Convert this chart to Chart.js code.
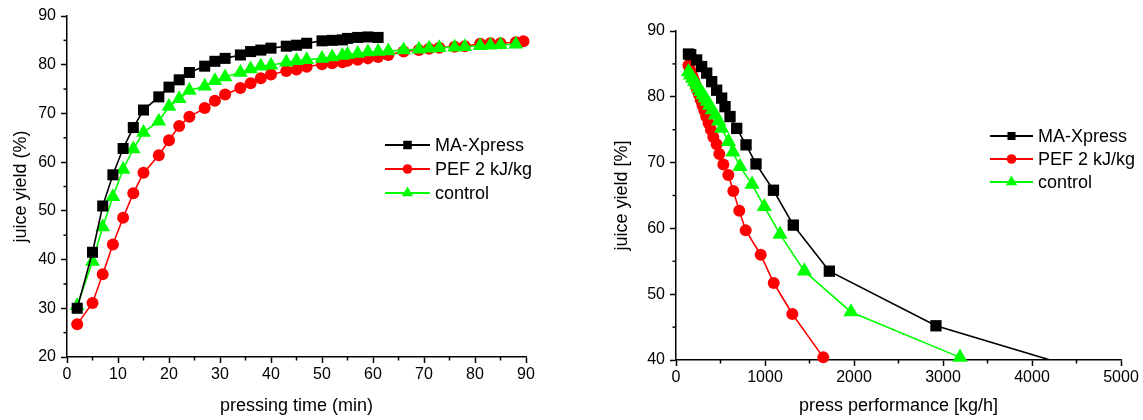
<!DOCTYPE html>
<html>
<head>
<meta charset="utf-8">
<script src="https://cdn.jsdelivr.net/npm/chart.js@4/dist/chart.umd.min.js"></script>
<style>
  html, body { margin: 0; padding: 0; background: #fff; }
  #wrap { position: relative; width: 1143px; height: 420px; overflow: hidden; }
  #time-chart { position: absolute; left: 0; top: 0; }
  #perf-chart { position: absolute; left: 600px; top: 0; }
</style>
</head>
<body>
<div id="wrap">
  <canvas id="time-chart" width="560" height="420"></canvas>
  <canvas id="perf-chart" width="543" height="420"></canvas>
</div>
<script>
// left panel: juice yield over pressing time
var seriesNames = ['MA-Xpress', 'PEF 2 kJ/kg', 'control'];

var timeMA = [2, 5, 7, 9, 11, 13, 15, 18, 20, 22, 24, 27, 29, 31, 34, 36, 38, 40, 43, 45, 47, 50, 52, 54, 55, 57, 59, 61];
var yieldMA = [30.0, 41.5, 51.0, 57.4, 62.8, 67.1, 70.7, 73.4, 75.4, 76.9, 78.4, 79.7, 80.7, 81.3, 82.0, 82.7, 83.0, 83.4, 83.8, 84.0, 84.4, 84.9, 85.0, 85.1, 85.4, 85.6, 85.7, 85.6];

var timePEF = [2, 5, 7, 9, 11, 13, 15, 18, 20, 22, 24, 27, 29, 31, 34, 36, 38, 40, 43, 45, 47, 50, 52, 54, 55, 57, 59, 61, 63, 66, 69, 71, 73, 76, 78, 81, 83, 85, 88, 89.5];
var yieldPEF = [26.7, 31.1, 37.0, 43.1, 48.6, 53.6, 57.8, 61.4, 64.5, 67.4, 69.3, 71.1, 72.6, 73.9, 75.2, 76.2, 77.2, 78.0, 78.7, 79.0, 79.6, 80.1, 80.3, 80.5, 80.8, 81.0, 81.3, 81.6, 82.0, 82.7, 83.0, 83.3, 83.5, 83.7, 83.8, 84.3, 84.4, 84.4, 84.6, 84.8];

var timeCtrl = [2, 5, 7, 9, 11, 13, 15, 18, 20, 22, 24, 27, 29, 31, 34, 36, 38, 40, 43, 45, 47, 50, 52, 54, 55, 57, 59, 61, 63, 66, 69, 71, 73, 76, 78, 81, 83, 85, 88];
var yieldCtrl = [30.5, 39.6, 46.7, 52.9, 58.5, 62.7, 66.1, 68.4, 71.4, 73.0, 74.7, 75.6, 76.7, 77.5, 78.4, 79.1, 79.7, 79.9, 80.5, 80.8, 81.0, 81.3, 81.6, 81.9, 82.1, 82.3, 82.6, 82.7, 82.8, 83.0, 83.2, 83.4, 83.5, 83.6, 83.7, 83.9, 84.0, 84.1, 84.2];

// right panel: juice yield over press performance
var perfMA = [140, 165, 232, 288, 345, 401, 457, 513, 551, 607, 682, 787, 899, 1095, 1318, 1723, 2921, 4500];
var perfYieldMA = [86.5, 86.4, 85.6, 84.6, 83.6, 82.3, 81.0, 79.8, 78.5, 77.0, 75.2, 72.7, 69.8, 65.8, 60.5, 53.5, 45.2, 38.8];

var perfPEF = [140, 154, 170, 186, 204, 222, 240, 258, 278, 298, 318, 340, 365, 392, 419, 457, 487, 532, 588, 644, 711, 783, 952, 1098, 1307, 1655];
var perfYieldPEF = [84.8, 84.3, 83.7, 83.1, 82.4, 81.7, 81.0, 80.3, 79.5, 78.7, 77.9, 77.0, 76.0, 75.0, 73.9, 72.8, 71.3, 69.7, 68.1, 65.7, 62.7, 59.7, 56.0, 51.7, 47.0, 40.4];

var perfCtrl = [140, 163, 186, 210, 233, 256, 280, 303, 327, 350, 377, 408, 443, 478, 513, 590, 640, 719, 855, 992, 1169, 1442, 1966, 3191];
var perfYieldCtrl = [83.8, 83.3, 82.8, 82.3, 81.8, 81.3, 80.8, 80.3, 79.8, 79.3, 78.7, 78.0, 77.2, 76.3, 75.2, 73.2, 71.6, 69.4, 66.7, 63.3, 59.1, 53.5, 47.3, 40.4];

var timeRange = [0, 90, 10];
var timeYieldRange = [20, 90, 10];
var perfRange = [0, 5000, 1000];
var perfYieldRange = [40, 90, 10];

var FONT = '"Liberation Sans", Arial, sans-serif';

function toPoints(xs, ys) {
  return xs.map(function (x, i) { return {x: x, y: ys[i]}; });
}

// half-length ticks between the labelled ones
var minorTicks = {
  id: 'minorTicks',
  afterDraw: function (chart, args, opts) {
    var ctx = chart.ctx;
    ctx.save();
    ctx.strokeStyle = '#000';
    ctx.lineWidth = 1.5;
    ['x', 'y'].forEach(function (id) {
      var scale = chart.scales[id];
      var ticks = scale.ticks;
      for (var i = 0; i < ticks.length - 1; i++) {
        var mid = (ticks[i].value + ticks[i + 1].value) / 2;
        var p = scale.getPixelForValue(mid);
        ctx.beginPath();
        if (id === 'x') {
          ctx.moveTo(p, chart.chartArea.bottom);
          ctx.lineTo(p, chart.chartArea.bottom + opts.length);
        } else {
          ctx.moveTo(chart.chartArea.left, p);
          ctx.lineTo(chart.chartArea.left - opts.length, p);
        }
        ctx.stroke();
      }
    });
    ctx.restore();
  }
};

// origin-style legend: line, marker, label
var lineLegend = {
  id: 'lineLegend',
  afterDraw: function (chart, args, opts) {
    var ctx = chart.ctx;
    chart.data.datasets.forEach(function (ds, i) {
      var y = opts.y + i * opts.rowGap;
      ctx.save();
      ctx.strokeStyle = ds.borderColor;
      ctx.lineWidth = 2;
      ctx.beginPath();
      ctx.moveTo(opts.x, y);
      ctx.lineTo(opts.x + opts.lineLength, y);
      ctx.stroke();
      ctx.fillStyle = ds.backgroundColor;
      Chart.helpers.drawPoint(ctx, {
        pointStyle: ds.pointStyle,
        radius: opts.radius[ds.pointStyle],
        borderWidth: 0,
        rotation: 0
      }, opts.x + opts.lineLength / 2, y);
      ctx.fillStyle = '#000';
      ctx.font = '18px ' + FONT;
      ctx.textBaseline = 'middle';
      ctx.textAlign = 'left';
      ctx.fillText(ds.label, opts.x + opts.lineLength + 5, y + 1);
      ctx.restore();
    });
  }
};

function makeAxis(range, title, opts) {
  return {
    type: 'linear',
    min: range[0],
    max: range[1],
    border: {display: true, color: '#000', width: 1.5},
    grid: {
      display: true,
      drawOnChartArea: false,
      drawTicks: true,
      tickLength: 6,
      tickColor: '#000',
      tickWidth: 1.5
    },
    ticks: {
      stepSize: range[2],
      color: '#000',
      padding: opts.tickPad,
      font: {family: FONT, size: 16},
      maxRotation: 0,
      autoSkip: false,
      callback: function (value) { return String(value); }
    },
    title: {
      display: true,
      text: title,
      color: '#000',
      font: {family: FONT, size: 18},
      padding: opts.titlePad
    },
    afterFit: function (scale) {
      if (opts.width) scale.width = opts.width;
      if (opts.height) scale.height = opts.height;
    }
  };
}

function makeDatasets(xsList, ysList, sizes) {
  var colors = ['#000000', '#ff0000', '#00ff00'];
  var styles = ['rect', 'circle', 'triangle'];
  var orders = [0, 2, 1];
  return seriesNames.map(function (name, i) {
    return {
      label: name,
      data: toPoints(xsList[i], ysList[i]),
      borderColor: colors[i],
      backgroundColor: colors[i],
      borderWidth: 1.6,
      pointStyle: styles[i],
      pointRadius: sizes[i],
      pointBorderWidth: 0,
      pointHoverRadius: sizes[i],
      tension: 0,
      order: orders[i],
      clip: i === 0 ? 0 : 6
    };
  });
}

function buildChart(id, datasets, xAxis, yAxis, padding, legendOpts) {
  return new Chart(document.getElementById(id), {
    type: 'line',
    data: {datasets: datasets},
    options: {
      responsive: false,
      animation: false,
      devicePixelRatio: 1,
      layout: {padding: padding},
      plugins: {
        legend: {display: false},
        tooltip: {enabled: false},
        minorTicks: {length: 3.5},
        lineLegend: legendOpts
      },
      scales: {x: xAxis, y: yAxis}
    },
    plugins: [minorTicks, lineLegend]
  });
}

buildChart('time-chart',
  makeDatasets([timeMA, timePEF, timeCtrl], [yieldMA, yieldPEF, yieldCtrl], [7.8, 6, 8.5]),
  makeAxis(timeRange, 'pressing time (min)', {tickPad: 2, titlePad: {top: 4, bottom: 3}, height: 63}),
  makeAxis(timeYieldRange, 'juice yield (%)', {tickPad: 5, titlePad: {top: 10, bottom: 4}, width: 67}),
  {top: 16, right: 34, left: 0, bottom: 0},
  {x: 385, y: 145, rowGap: 24, lineLength: 45, radius: {rect: 6, circle: 4.8, triangle: 6.5}}
);

buildChart('perf-chart',
  makeDatasets([perfMA, perfPEF, perfCtrl], [perfYieldMA, perfYieldPEF, perfYieldCtrl], [8, 6, 8.8]),
  makeAxis(perfRange, 'press performance [kg/h]', {tickPad: 2, titlePad: {top: 4, bottom: 3}, height: 60}),
  makeAxis(perfYieldRange, 'juice yield [%]', {tickPad: 5, titlePad: {top: 11, bottom: 4}, width: 76}),
  {top: 31, right: 22, left: 0, bottom: 0},
  {x: 390, y: 136, rowGap: 23, lineLength: 43, radius: {rect: 5.7, circle: 4.8, triangle: 6.5}}
);
</script>
</body>
</html>
